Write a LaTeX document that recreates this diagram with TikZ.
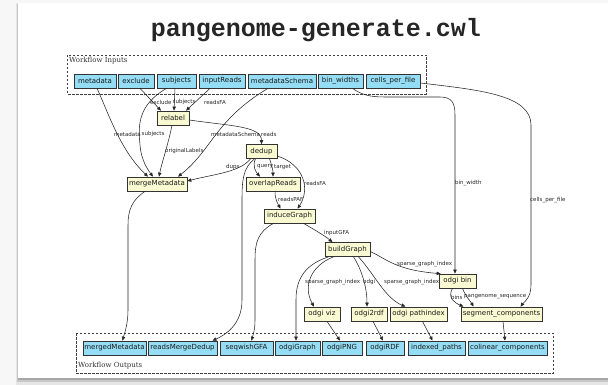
\documentclass[tikz,border=0pt]{standalone}
\usepackage{fontspec}
\usetikzlibrary{arrows.meta}
\newfontfamily\nodefont{DejaVu Sans}
\newfontfamily\serfont{DejaVu Serif}
\newfontfamily\titlemono{Liberation Mono}
\definecolor{inblue}{HTML}{94DDF4}
\definecolor{stepyel}{HTML}{FAFAD2}
\tikzset{
  io/.style={draw=black!80, line width=0.7pt, fill=inblue, font=\nodefont\fontsize{7}{8}\selectfont, minimum height=14pt, inner sep=0pt, text=black!90},
  stepnode/.style={io, fill=stepyel},
  edge/.style={draw=black!85, line width=0.55pt, -{Triangle[length=4pt,width=3.4pt]}},
  elab/.style={font=\nodefont\fontsize{5.5}{6}\selectfont, text=black!85, inner sep=0pt, anchor=west},
  wfbox/.style={draw=black!75, line width=0.6pt, dash pattern=on 2.5pt off 1.5pt},
  boxlab/.style={font=\serfont\fontsize{7}{8}\selectfont, text=black!80, inner sep=0pt, anchor=west},
}
\begin{document}
\begin{tikzpicture}[x=1pt,y=-1pt]
\useasboundingbox (0,0) rectangle (608,385);
% background and card
\fill[black!3] (0,0) rectangle (608,385);
\fill[black!10] (16,3) rectangle (612,385);
\fill[black!22] (17,4) rectangle (612,382);
\fill[black!35] (18,5) rectangle (612,380);
\fill[white] (18,3) rectangle (612,378);

% title
\node[font=\titlemono\bfseries\fontsize{25}{28}\selectfont, text=black!85, anchor=base, inner sep=0pt] (title) at (316,37) {pangenome-generate.cwl};

% boxes
\draw[wfbox] (67,55) rectangle (426,94);
\node[boxlab] (inlab) at (69,61) {Workflow Inputs};
\draw[wfbox] (76,333) rectangle (553,373);
\node[boxlab] (outlab) at (78,366) {Workflow Outputs};

% inputs
\node[io, minimum width=42pt] (metadata) at (95,81) {metadata};
\node[io, minimum width=36pt] (exclude) at (136,81) {exclude};
\node[io, minimum width=39pt] (subjects) at (176.5,81) {subjects};
\node[io, minimum width=46pt] (inputReads) at (222,81) {inputReads};
\node[io, minimum width=68pt] (metadataSchema) at (282,81) {metadataSchema};
\node[io, minimum width=45pt] (binwidths) at (340.5,81) {bin\_widths};
\node[io, minimum width=54pt] (cellsperfile) at (393,81) {cells\_per\_file};

% steps
\node[stepnode, minimum width=32pt] (relabel) at (173,118) {relabel};
\node[stepnode, minimum width=31pt] (dedup) at (261.5,151.5) {dedup};
\node[stepnode, minimum width=60pt] (mergeMetadata) at (157,184) {mergeMetadata};
\node[stepnode, minimum width=54pt] (overlapReads) at (273,184) {overlapReads};
\node[stepnode, minimum width=51pt] (induceGraph) at (289.5,216) {induceGraph};
\node[stepnode, minimum width=45pt] (buildGraph) at (347.5,249.5) {buildGraph};
\node[stepnode, minimum width=37pt] (odgibin) at (457.5,281) {odgi bin};
\node[stepnode, minimum width=36pt] (odgiviz) at (322,314) {odgi viz};
\node[stepnode, minimum width=36pt] (odgirdf) at (369,314) {odgi2rdf};
\node[stepnode, minimum width=57pt] (pathindex) at (418.5,314) {odgi pathindex};
\node[stepnode, minimum width=81pt] (segcomp) at (501.5,314) {segment\_components};

% outputs
\node[io, minimum width=63pt] (mergedMetadata) at (114.5,348) {mergedMetadata};
\node[io, minimum width=69pt] (readsMergeDedup) at (182.5,348) {readsMergeDedup};
\node[io, minimum width=53pt] (seqwishGFA) at (246.5,348) {seqwishGFA};
\node[io, minimum width=45pt] (odgiGraph) at (297.5,348) {odgiGraph};
\node[io, minimum width=40pt] (odgiPNG) at (342,348) {odgiPNG};
\node[io, minimum width=38pt] (odgiRDF) at (385,348) {odgiRDF};
\node[io, minimum width=57pt] (indexedpaths) at (436.5,348) {indexed\_paths};
\node[io, minimum width=79pt] (colinear) at (507.5,348) {colinear\_components};

% edges
\draw[edge] ([xshift=2pt]metadata.south) .. controls (108,112) and (120,150) .. ([xshift=-9pt]mergeMetadata.north);
\draw[edge] ([xshift=-10pt]subjects.south) .. controls (138,105) and (138,125) .. (140,145) .. controls (141,160) and (148,170) .. ([xshift=-4pt]mergeMetadata.north);
\draw[edge] ([xshift=4pt]exclude.south) -- ([xshift=-12pt]relabel.north);
\draw[edge] ([xshift=-1.5pt]subjects.south) -- ([xshift=1pt]relabel.north);
\draw[edge] ([xshift=-12pt]inputReads.south) -- ([xshift=13pt]relabel.north);
\draw[edge] ([xshift=-1pt]relabel.south) .. controls (168,145) and (162,162) .. ([xshift=2pt]mergeMetadata.north);
\draw[edge] ([xshift=-14pt]metadataSchema.south) .. controls (215,120) and (212,150) .. ([xshift=21pt]mergeMetadata.north);
\draw[edge] ([yshift=-2pt]relabel.east) .. controls (230,126) and (261.5,126) .. (dedup.north);
\draw[edge] ([xshift=-11pt]dedup.south) .. controls (240,172) and (215,174) .. ([yshift=3pt]mergeMetadata.east);
\draw[edge] ([xshift=-6pt]dedup.south) .. controls (252,166) and (256,172) .. ([xshift=-13pt]overlapReads.north);
\draw[edge] ([xshift=8pt]dedup.south) .. controls (272,166) and (273,170) .. (overlapReads.north);
\draw[edge] ([yshift=-4.5pt]dedup.east) .. controls (305,165) and (310,190) .. ([xshift=8pt]induceGraph.north);
\draw[edge] ([xshift=2pt]overlapReads.south) .. controls (275,200) and (278,204) .. ([xshift=-9pt]induceGraph.north);
\draw[edge] ([xshift=-7pt]dedup.south) .. controls (243,168) and (242,180) .. (242,200) -- (242,300) .. controls (242,325) and (225,335) .. ([xshift=30pt]readsMergeDedup.north);
\draw[edge] ([xshift=-12pt]mergeMetadata.south) .. controls (132,200) and (128,210) .. (128,225) -- (128,310) .. controls (128,325) and (124,335) .. ([xshift=8pt]mergedMetadata.north);
\draw[edge] ([xshift=-16pt]induceGraph.south) .. controls (258,232) and (255,242) .. (255,260) -- (255,320) .. controls (255,330) and (253,335) .. ([xshift=5pt]seqwishGFA.north);
\draw[edge] ([xshift=14pt]induceGraph.south) .. controls (315,230) and (325,236) .. ([xshift=-15pt]buildGraph.north);
\draw[edge] ([xshift=-19pt]buildGraph.south) .. controls (300,266) and (296,285) .. (296,300) -- ([xshift=-1.5pt]odgiGraph.north);
\draw[edge] ([xshift=-14pt]buildGraph.south) .. controls (310,266) and (303,287) .. ([xshift=-8pt]odgiviz.north);
\draw[edge] ([xshift=6pt]buildGraph.south) .. controls (362,270) and (367,288) .. ([xshift=-2pt]odgirdf.north);
\draw[edge] ([xshift=11pt]buildGraph.south) .. controls (375,275) and (385,298) .. ([xshift=-13pt]pathindex.north);
\draw[edge] ([yshift=-2pt]buildGraph.east) .. controls (385,258) and (395,270) .. ([xshift=2pt]odgibin.north west);
\draw[edge] ([xshift=12pt]binwidths.south) .. controls (362,95) and (370,97) .. (385,97) -- (440,97) .. controls (452,97) and (455,103) .. (455,115) -- ([xshift=-2.5pt]odgibin.north);
\draw[edge] ([yshift=-2pt]cellsperfile.east) .. controls (480,90) and (531,95) .. (531,125) -- (531,285) .. controls (531,298) and (524,302) .. ([xshift=19pt]segcomp.north);
\draw[edge] ([xshift=-5pt]odgibin.south) .. controls (447,298) and (455,303) .. ([xshift=-38pt]segcomp.north);
\draw[edge] ([xshift=5pt]odgibin.south) .. controls (466,297) and (471,302) .. ([xshift=-28pt]segcomp.north);
\draw[edge] ([xshift=5pt]odgiviz.south) -- ([xshift=-2pt]odgiPNG.north);
\draw[edge] ([xshift=4pt]odgirdf.south) -- ([xshift=-2pt]odgiRDF.north);
\draw[edge] ([xshift=4pt]pathindex.south) -- ([xshift=-4pt]indexedpaths.north);
\draw[edge] ([xshift=1.5pt]segcomp.south) -- ([xshift=-2.5pt]colinear.north);

% edge labels
\node[elab] (l1) at (150,102) {exclude};
\node[elab] (l2) at (172.5,102) {subjects};
\node[elab] (l3) at (204,102) {readsFA};
\node[elab] (l4) at (114,134) {metadata};
\node[elab] (l5) at (141.5,134) {subjects};
\node[elab] (l6) at (211,134) {metadataSchema};
\node[elab] (l7) at (261,134) {reads};
\node[elab] (l8) at (165,151) {originalLabels};
\node[elab] (l9) at (226,167) {dups};
\node[elab] (l10) at (257,167) {query};
\node[elab] (l11) at (274,167) {target};
\node[elab] (l12) at (304,183) {readsFA};
\node[elab] (l13) at (278,199) {readsPAF};
\node[elab] (l14) at (324,233) {inputGFA};
\node[elab] (l15) at (305,282) {sparse\_graph\_index};
\node[elab] (l16) at (363,282) {odgi};
\node[elab] (l17) at (384,282) {sparse\_graph\_index};
\node[elab] (l18) at (397,264) {sparse\_graph\_index};
\node[elab] (l19) at (455,183) {bin\_width};
\node[elab] (l20) at (530,200) {cells\_per\_file};
\node[elab] (l21) at (451,297) {bins};
\node[elab] (l22) at (464,297) {pangenome\_sequence};
\end{tikzpicture}
\end{document}
